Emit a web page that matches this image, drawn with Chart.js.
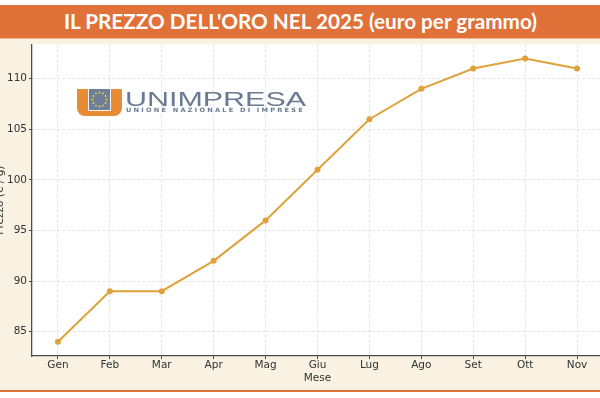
<!DOCTYPE html>
<html>
<head>
<meta charset="utf-8">
<script src="https://cdn.jsdelivr.net/npm/chart.js@4.4.1/dist/chart.umd.min.js"></script>
<style>
    html, body { margin: 0; padding: 0; width: 600px; height: 398px; overflow: hidden; background: #fff; }
    #band { position: absolute; left: 0; top: 5px; width: 600px; height: 33px; background: #e07139; border-bottom: 1px solid #f1b28c; }
    #title { position: absolute; left: 0; top: 5px; width: 600px; height: 33px; text-align: center; white-space: nowrap; }
    #title span { display: inline-block; color: #fff; font: bold 20px Lato, "Open Sans", sans-serif; line-height: 33px; transform-origin: center; }
    #cream { position: absolute; left: 0; top: 39px; width: 600px; height: 351px; background: #f9f1e1; }
    #foot { position: absolute; left: 0; top: 390px; width: 600px; height: 2px; background: #e07139; }
    #wrap { position: absolute; left: -12px; top: 36px; width: 620px; height: 354px; }
</style>
</head>
<body>
<div id="band"></div>
<div id="title"><span id="title-text">IL PREZZO DELL'ORO NEL 2025 (euro per grammo)</span></div>
<div id="cream"></div>
<div id="foot"></div>
<div id="wrap"><canvas id="gold-chart" width="620" height="354"></canvas></div>

<script>
// dati
const months = ['Gen', 'Feb', 'Mar', 'Apr', 'Mag', 'Giu', 'Lug', 'Ago', 'Set', 'Ott', 'Nov'];
const prices = [84, 89, 89, 92, 96, 101, 106, 109, 111, 112, 111];
const yTicks = [85, 90, 95, 100, 105, 110];
const Y_MIN = 82.6;
const Y_MAX = 113.4;

const LINE_COLOR = '#dfa23b';
const TEXT_COLOR = '#333333';
const AXIS_FONT = 'DejaVu Sans';

// titolo: adatta la larghezza a quella dell'originale
const titleEl = document.getElementById('title-text');
const tw = titleEl.getBoundingClientRect().width;
if (tw > 0) titleEl.style.transform = 'scaleX(' + (473 / tw) + ')';

// sfondo bianco dell'area del grafico
const plotBg = {
    id: 'plotBg',
    beforeDraw(chart) {
        const { ctx, chartArea: a } = chart;
        ctx.save();
        ctx.fillStyle = '#ffffff';
        ctx.fillRect(a.left, a.top, a.right - a.left, a.bottom - a.top);
        ctx.restore();
    }
};

// logo Unimpresa (filigrana)
const logo = {
    id: 'logo',
    beforeDatasetsDraw(chart) {
        const ctx = chart.ctx;
        ctx.save();
        ctx.translate(12, -36); // coordinate pagina -> canvas

        ctx.fillStyle = '#e88b35';
        ctx.beginPath();
        ctx.roundRect(77, 89, 45, 27, [0, 0, 8, 8]);
        ctx.fill();
        ctx.fillStyle = '#f4f4f4';
        ctx.fillRect(88, 89, 23, 22);
        ctx.fillStyle = '#6f7f98';
        ctx.fillRect(89, 89, 21, 21);

        ctx.fillStyle = '#f2d23c';
        for (let i = 0; i < 12; i++) {
            const ang = i * Math.PI / 6;
            ctx.beginPath();
            ctx.arc(99.5 + 7 * Math.cos(ang), 99.5 + 7 * Math.sin(ang), 0.9, 0, Math.PI * 2);
            ctx.fill();
        }

        ctx.fillStyle = '#6a7a92';
        ctx.textBaseline = 'alphabetic';
        ctx.font = '21px "Liberation Sans", sans-serif';
        let w = ctx.measureText('UNIMPRESA').width;
        ctx.save();
        ctx.translate(125, 105.5);
        ctx.scale(181 / w, 1);
        ctx.fillText('UNIMPRESA', 0, 0);
        ctx.restore();

        ctx.font = 'bold 6px "DejaVu Sans", sans-serif';
        ctx.letterSpacing = '2px';
        w = ctx.measureText('UNIONE NAZIONALE DI IMPRESE').width;
        ctx.save();
        ctx.translate(126, 112);
        ctx.scale(179 / w, 1);
        ctx.fillText('UNIONE NAZIONALE DI IMPRESE', 0, 0);
        ctx.restore();

        ctx.restore();
    }
};

const ctx = document.getElementById('gold-chart');
new Chart(ctx, {
    type: 'line',
    data: {
        labels: months,
        datasets: [{
            label: 'Prezzo (€ / g)',
            data: prices,
            borderColor: LINE_COLOR,
            backgroundColor: LINE_COLOR,
            borderWidth: 2,
            tension: 0,
            pointRadius: 3,
            pointBorderWidth: 0,
            pointBackgroundColor: LINE_COLOR
        }]
    },
    options: {
        responsive: false,
        animation: false,
        layout: { padding: { top: 0, right: 5, bottom: 0, left: 0 } },
        plugins: { legend: { display: false }, tooltip: { enabled: false } },
        scales: {
            x: {
                type: 'category',
                offset: true,
                grid: { color: '#dcdcdc', lineWidth: 0.8, tickLength: 3, tickColor: '#444', tickWidth: 1 },
                border: { color: '#4d4d4d', width: 1.3, dash: [3, 2] },
                ticks: { color: TEXT_COLOR, font: { family: AXIS_FONT, size: 10.5, lineHeight: 1 }, padding: 1, maxRotation: 0, autoSkip: false },
                title: { display: true, text: 'Mese', color: TEXT_COLOR, font: { family: AXIS_FONT, size: 10.5, lineHeight: 1.2 }, padding: { top: 0, bottom: 5 } },
                afterFit: s => { s.height = 34; }
            },
            y: {
                min: Y_MIN,
                max: Y_MAX,
                afterBuildTicks: s => { s.ticks = yTicks.map(v => ({ value: v })); },
                grid: { color: '#dcdcdc', lineWidth: 0.8, tickLength: 3, tickColor: '#444', tickWidth: 1 },
                border: { color: '#4d4d4d', width: 1.3, dash: [3, 2] },
                ticks: { color: TEXT_COLOR, font: { family: AXIS_FONT, size: 10.5 }, padding: 2 },
                title: { display: true, text: 'Prezzo (€ / g)', color: TEXT_COLOR, font: { family: AXIS_FONT, size: 10.5, lineHeight: 1.2 }, padding: { top: 6, bottom: 0 } },
                afterFit: s => { s.width = 44; }
            }
        }
    },
    plugins: [plotBg, logo]
});
</script>
</body>
</html>
